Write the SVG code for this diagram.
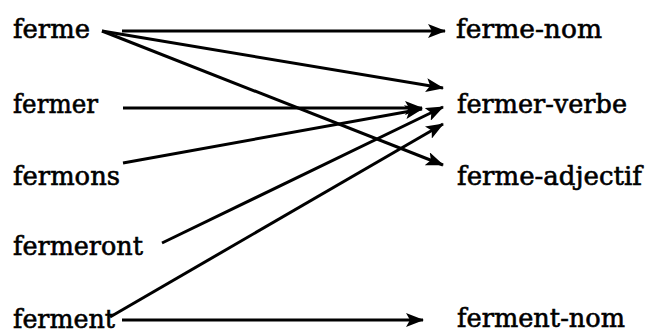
<svg xmlns="http://www.w3.org/2000/svg" width="646" height="335" viewBox="0 0 646 335">
  <style>
    .lbl { font-family: 'DejaVu Serif', 'Liberation Serif', serif; font-size: 26px; fill: #000; stroke: #000; stroke-width: 0.6; }
  </style>
  <defs>
    <marker id="head" markerUnits="userSpaceOnUse" markerWidth="18" markerHeight="14" refX="17" refY="7" orient="auto">
      <path d="M0,0 L18,7 L0,14 L4,7 Z" fill="#000"/>
    </marker>
  </defs>
  <rect width="646" height="335" fill="#fff"/>

  <!-- connectors -->
  <g id="connectors" stroke="#000" stroke-width="3" fill="none" marker-end="url(#head)">
    <line x1="122" y1="31" x2="445" y2="31"/>
    <line x1="102" y1="31" x2="443" y2="88"/>
    <line x1="102" y1="31" x2="443" y2="165"/>
    <line x1="123" y1="108" x2="422" y2="108"/>
    <line x1="123" y1="163" x2="422" y2="109"/>
    <line x1="162" y1="243" x2="443" y2="107"/>
    <line x1="110" y1="317" x2="443" y2="124"/>
    <line x1="122" y1="320" x2="423" y2="320"/>
  </g>

  <!-- word forms -->
  <g id="ferme"><text class="lbl" x="13" y="38" textLength="77" lengthAdjust="spacingAndGlyphs">ferme</text></g>
  <g id="fermer"><text class="lbl" x="13" y="113" textLength="85" lengthAdjust="spacingAndGlyphs">fermer</text></g>
  <g id="fermons"><text class="lbl" x="13" y="185" textLength="107" lengthAdjust="spacingAndGlyphs">fermons</text></g>
  <g id="fermeront"><text class="lbl" x="13" y="255" textLength="130" lengthAdjust="spacingAndGlyphs">fermeront</text></g>
  <g id="ferment"><text class="lbl" x="13" y="328" textLength="102" lengthAdjust="spacingAndGlyphs">ferment</text></g>

  <!-- lemmas -->
  <g id="ferme-nom"><text class="lbl" x="456" y="38" textLength="146" lengthAdjust="spacingAndGlyphs">ferme-nom</text></g>
  <g id="fermer-verbe"><text class="lbl" x="457" y="113" textLength="170" lengthAdjust="spacingAndGlyphs">fermer-verbe</text></g>
  <g id="ferme-adjectif"><text class="lbl" x="457" y="185" textLength="185" lengthAdjust="spacingAndGlyphs">ferme-adjectif</text></g>
  <g id="ferment-nom"><text class="lbl" x="457" y="327" textLength="168" lengthAdjust="spacingAndGlyphs">ferment-nom</text></g>
</svg>
